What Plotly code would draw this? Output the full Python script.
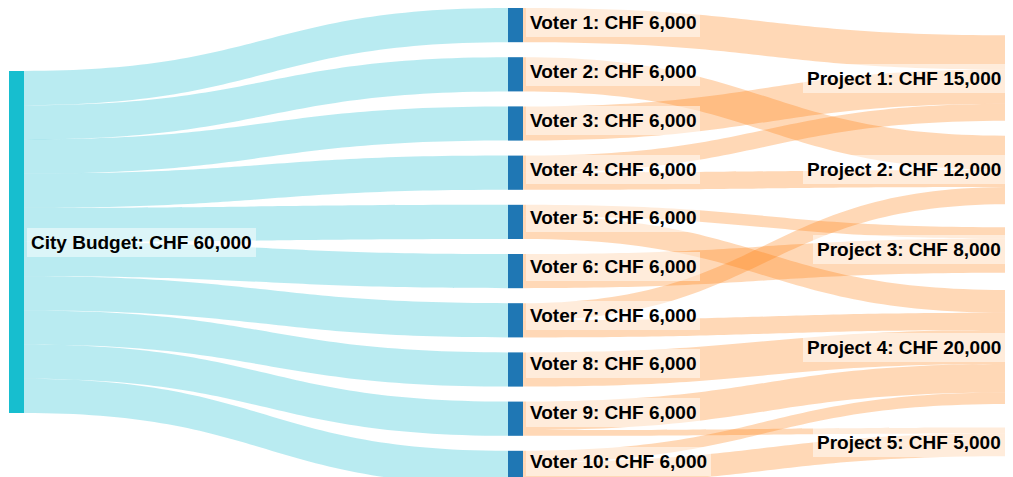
import plotly.graph_objects as go

# ---------------- data ----------------
budget_label = "City Budget"
voters = [f"Voter {i}" for i in range(1, 11)]
projects = [f"Project {i}" for i in range(1, 6)]

voter_budget = [6000] * 10

# voter -> project allocations
alloc_voter = [0, 1, 2, 3, 3, 4, 4, 5, 6, 6, 7, 8, 8, 9, 9]
alloc_project = [0, 1, 0, 0, 1, 2, 3, 2, 1, 3, 3, 3, 4, 3, 4]
alloc_amount = [6000, 6000, 6000, 3000, 3000, 2000, 4000, 6000, 3000, 3000, 6000, 5000, 1000, 2000, 4000]

project_totals = [0] * len(projects)
for p, a in zip(alloc_project, alloc_amount):
    project_totals[p] += a


def fmt(v):
    return f"CHF {v:,.0f}"


labels = ([f"{budget_label}: {fmt(sum(voter_budget))}"]
          + [f"{v}: {fmt(b)}" for v, b in zip(voters, voter_budget)]
          + [f"{p}: {fmt(t)}" for p, t in zip(projects, project_totals)])

# ---------------- layout (pixels in figure space) ----------------
W, H = 1013, 477
THICK = 15
col_x = [8.5, 507.5, 1007.5]                 # node column centres
budget_y = 234
voter_y0, voter_step = 15, 48.67
project_y = [70, 162, 242, 339, 434]       # project node centres

node_x = [col_x[0]] + [col_x[1]] * len(voters) + [col_x[2]] * len(projects)
node_y = ([budget_y] + [voter_y0 + i * voter_step for i in range(len(voters))]
          + project_y)

node_colors = ["#17becf"] + ["#1f77b4"] * len(voters) + ["#ff7f0e"] * len(projects)

src, tgt, val, lcol = [], [], [], []
for i, b in enumerate(voter_budget):
    src.append(0); tgt.append(1 + i); val.append(b); lcol.append("rgba(23,190,207,0.3)")
for v, p, a in zip(alloc_voter, alloc_project, alloc_amount):
    src.append(1 + v); tgt.append(1 + len(voters) + p); val.append(a)
    lcol.append("rgba(255,127,14,0.3)")

fig = go.Figure(go.Sankey(
    arrangement="snap",
    node=dict(label=[""] * len(labels), customdata=labels,
              hovertemplate="%{customdata}<extra></extra>",
              color=node_colors, thickness=THICK, pad=15,
              line=dict(width=0),
              x=[x / W for x in node_x], y=[y / H for y in node_y]),
    link=dict(source=src, target=tgt, value=val, color=lcol),
))

GAP, PAD = 3, 4
for i, (lab, x, y) in enumerate(zip(labels, node_x, node_y)):
    right_col = x == col_x[2]
    ax = (x - THICK / 2 - GAP) if right_col else (x + THICK / 2 + GAP)
    fig.add_annotation(
        x=ax / W, y=1 - y / H, xref="paper", yref="paper",
        xanchor="right" if right_col else "left", yanchor="middle",
        text=f"<b>{lab}</b>", showarrow=False,
        font=dict(family="Liberation Sans, Arial, sans-serif", size=19, color="black"),
        bgcolor="rgba(255,255,255,0.5)", borderpad=PAD, borderwidth=0,
    )

fig.update_layout(width=W, height=H, margin=dict(l=0, r=0, t=0, b=0),
                  paper_bgcolor="white")
fig.write_html("out.html")
